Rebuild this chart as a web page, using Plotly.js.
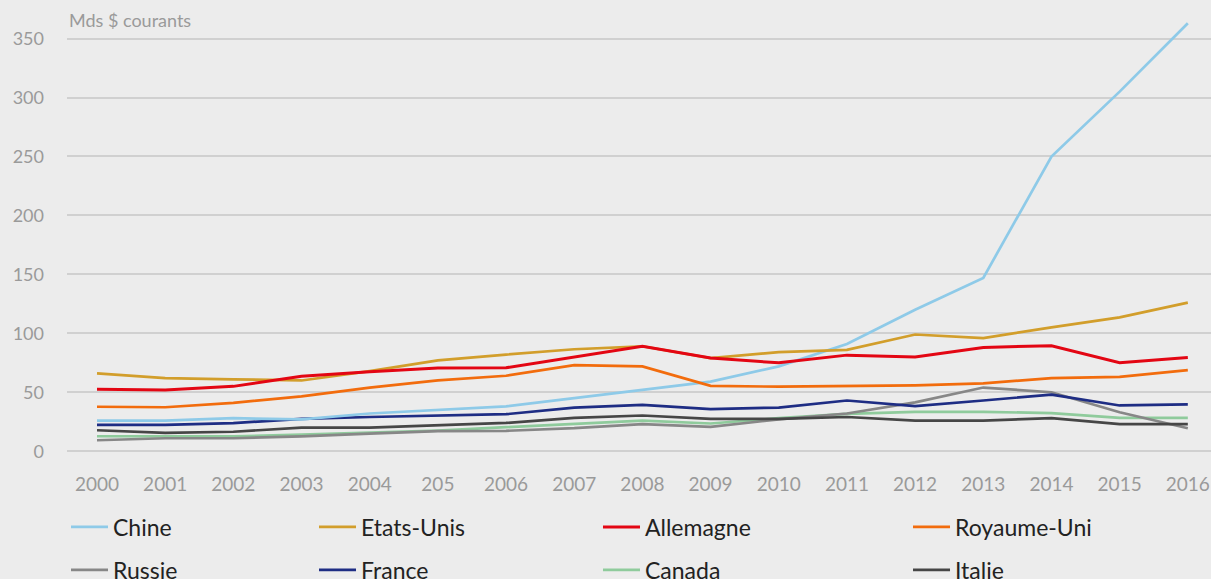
<!DOCTYPE html>
<html>
<head>
<meta charset="utf-8">
<script src="https://cdn.plot.ly/plotly-3.0.1.min.js"></script>
<style>html,body{margin:0;padding:0;background:#ECECEC;}#chart{width:1211px;height:579px;}</style>
</head>
<body>
<div id="chart"></div>
<script>
const years = ["2000","2001","2002","2003","2004","2005","2006","2007","2008","2009","2010","2011","2012","2013","2014","2015","2016"];
const tickLabels = ["2000","2001","2002","2003","2004","205","2006","2007","2008","2009","2010","2011","2012","2013","2014","2015","2016"];
const yTicks = [0, 50, 100, 150, 200, 250, 300, 350];

const chine      = [26, 26, 28, 27, 32, 35, 38, 45, 52, 59, 72, 91, 120, 147, 250, 305, 363];
const etatsUnis  = [66, 62, 61, 60, 68, 77, 82, 86.5, 89, 79, 84, 86, 99, 96, 105, 113.5, 126];
const allemagne  = [52.5, 52, 55, 63.5, 67.5, 70.5, 70.8, 80, 89, 79, 75, 81.5, 80, 88, 89.5, 75, 79.5];
const royaumeUni = [37.7, 37.3, 41, 46.5, 54, 60, 64, 73, 72, 55.5, 54.7, 55.5, 55.8, 57.5, 62, 63, 68.8];
const russie     = [9.3, 11, 11, 12.5, 15, 17, 17.3, 19.5, 23, 20.7, 27, 32, 41.4, 54, 50, 33, 19.5];
const france     = [22.4, 22.4, 23.8, 27.5, 29, 30.5, 31.4, 37, 39.3, 35.7, 37, 43, 38.2, 43, 48, 38.8, 39.7];
const canada     = [12.7, 12.7, 12.5, 14, 16, 17.5, 20.4, 23, 26, 23.5, 28, 31.7, 33.4, 33.4, 32.3, 28.3, 28.3];
const italie     = [17.8, 15.6, 16.5, 20, 20, 22, 24, 28.3, 30.3, 27.5, 27.5, 29, 26, 26, 28, 23, 23];

const series = [
  {name: "Chine", y: chine, color: "#8ECAE8", legend: "legend"},
  {name: "Etats-Unis", y: etatsUnis, color: "#D29E2B", legend: "legend2"},
  {name: "Allemagne", y: allemagne, color: "#E30613", legend: "legend3"},
  {name: "Royaume-Uni", y: royaumeUni, color: "#F26C0D", legend: "legend4"},
  {name: "Russie", y: russie, color: "#878787", legend: "legend"},
  {name: "France", y: france, color: "#1E2D84", legend: "legend2"},
  {name: "Canada", y: canada, color: "#8FCB9C", legend: "legend3"},
  {name: "Italie", y: italie, color: "#464646", legend: "legend4"}
];
const drawOrder = [6, 4, 7, 5, 0, 3, 1, 2];

const traces = drawOrder.map(i => {
  const s = series[i];
  return {
    type: "scatter", mode: "lines", name: s.name,
    x: years, y: s.y,
    line: {color: s.color, width: s.name === "Allemagne" ? 3 : 2.7},
    legend: s.legend, legendgroup: s.name, legendrank: i
  };
});

const font = {family: "Lato, 'Open Sans', sans-serif"};
const legFont = {family: "Lato, sans-serif", size: 23, color: "#222"};
function leg(x) {
  return {x: x, xref: "container", xanchor: "left", y: 0.127, yref: "container", yanchor: "top",
    bgcolor: "rgba(0,0,0,0)", font: legFont, tracegroupgap: 10, traceorder: "grouped", itemwidth: 37};
}

const layout = {
  width: 1211, height: 579,
  paper_bgcolor: "#ECECEC", plot_bgcolor: "#ECECEC",
  margin: {l: 67, r: 0, t: 15, b: 116, autoexpand: false},
  font: font,
  showlegend: true,
  xaxis: {
    type: "category", range: [-0.44, 16.34],
    tickvals: years, ticktext: tickLabels, tickangle: 0,
    showgrid: false, zeroline: false, showline: false, ticks: "",
    ticklabelstandoff: 8,
    tickfont: {size: 19, color: "#9A9A9A"}, fixedrange: true, automargin: false
  },
  yaxis: {
    range: [-10, 370], tickvals: yTicks,
    showgrid: true, gridcolor: "#D0D0D0", gridwidth: 2,
    zeroline: false, showline: false, ticks: "",
    ticklabelstandoff: 22, automargin: false,
    tickfont: {size: 18, color: "#9A9A9A"}, fixedrange: true
  },
  legend: leg(0.0545),
  legend2: leg(0.2593),
  legend3: leg(0.4938),
  legend4: leg(0.7498),
  annotations: [{
    text: "Mds $ courants", xref: "paper", yref: "paper", x: 0, y: 1.0,
    xanchor: "left", yanchor: "middle", yshift: -5, showarrow: false,
    font: {size: 18, color: "#9A9A9A"}
  }]
};

Plotly.newPlot("chart", traces, layout, {displayModeBar: false, staticPlot: true});
</script>
</body>
</html>
